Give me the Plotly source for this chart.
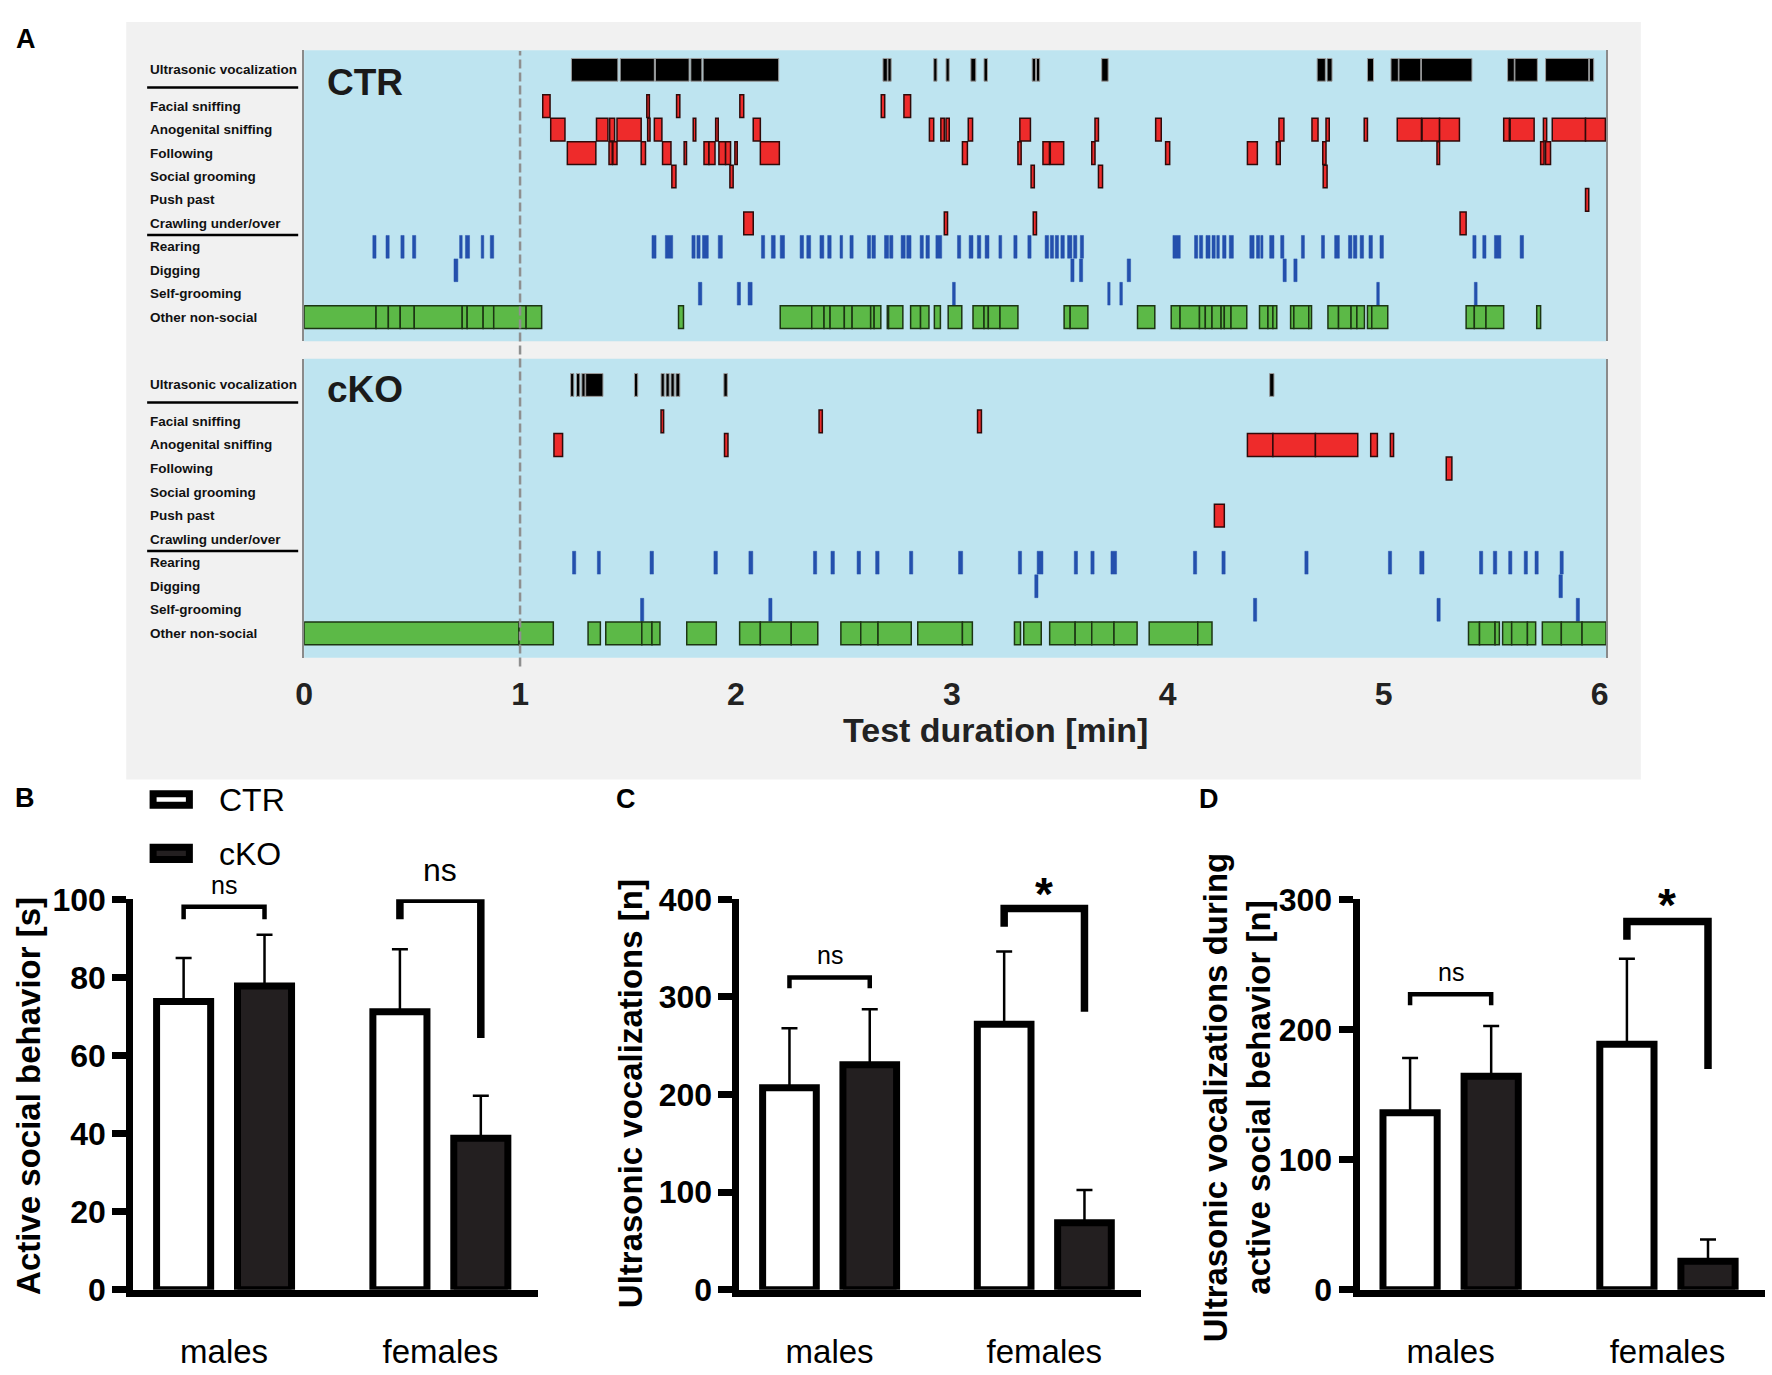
import plotly.graph_objects as go

W, H = 1772, 1375


def PX(v):
    return v / W


def PY(v):
    return 1 - v / H


# ------------------------------------------------------------------ data
behaviors = ["Ultrasonic vocalization", "Facial sniffing", "Anogenital sniffing", "Following",
             "Social grooming", "Push past", "Crawling under/over", "Rearing", "Digging",
             "Self-grooming", "Other non-social"]
behavior_kind = ["usv", "social", "social", "social", "social", "social", "social",
                 "nonsocial", "nonsocial", "nonsocial", "other"]
time_ticks = [0, 1, 2, 3, 4, 5, 6]
habituation_end = 1.0

# CTR events (start, end) in minutes
ctr_usv = [(1.238, 1.453), (1.464, 1.622), (1.627, 1.783), (1.791, 1.842), (1.848, 2.198),
           (2.681, 2.701), (2.704, 2.719), (2.916, 2.931), (2.973, 2.988), (3.088, 3.111),
           (3.149, 3.165), (3.372, 3.388), (3.392, 3.407), (3.694, 3.724), (4.692, 4.730),
           (4.738, 4.761), (4.925, 4.953), (5.034, 5.068), (5.071, 5.172), (5.175, 5.409),
           (5.574, 5.605), (5.608, 5.712), (5.750, 5.950), (5.953, 5.973)]
ctr_facial = [(1.105, 1.139), (1.587, 1.599), (1.725, 1.740), (2.018, 2.036), (2.673, 2.689),
              (2.778, 2.809)]
ctr_anogenital = [(1.142, 1.208), (1.354, 1.407), (1.415, 1.438), (1.449, 1.561), (1.591, 1.602),
                  (1.622, 1.657), (1.802, 1.814), (1.906, 1.918), (2.080, 2.113), (2.896, 2.916),
                  (2.949, 2.965), (2.973, 2.988), (3.076, 3.096), (3.315, 3.364), (3.663, 3.679),
                  (3.944, 3.970), (4.515, 4.538), (4.668, 4.696), (4.733, 4.748), (4.910, 4.925),
                  (5.063, 5.175), (5.178, 5.259), (5.259, 5.351), (5.556, 5.582), (5.586, 5.697),
                  (5.740, 5.755), (5.781, 5.935), (5.935, 6.027)]
ctr_following = [(1.219, 1.351), (1.412, 1.427), (1.430, 1.449), (1.561, 1.581), (1.660, 1.699),
                 (1.760, 1.771), (1.852, 1.875), (1.875, 1.903), (1.921, 1.952), (1.952, 1.975),
                 (1.995, 2.006), (2.113, 2.201), (3.049, 3.072), (3.306, 3.321), (3.422, 3.452),
                 (3.456, 3.518), (3.648, 3.663), (3.990, 4.009), (4.369, 4.415), (4.503, 4.521),
                 (4.718, 4.733), (5.247, 5.259), (5.727, 5.743), (5.750, 5.773)]
ctr_social_grooming = [(1.703, 1.722), (1.972, 1.987), (3.367, 3.382), (3.679, 3.698), (4.720, 4.738)]
ctr_push_past = [(5.935, 5.950)]
ctr_crawling = [(2.036, 2.080), (2.965, 2.980), (3.377, 3.392), (5.354, 5.382)]
ctr_rearing = [(0.318, 0.333), (0.379, 0.394), (0.448, 0.463), (0.502, 0.517), (0.720, 0.732),
               (0.747, 0.766), (0.820, 0.832), (0.862, 0.878), (1.611, 1.630), (1.673, 1.707),
               (1.796, 1.811), (1.819, 1.834), (1.845, 1.872), (1.918, 1.937), (2.118, 2.133),
               (2.164, 2.182), (2.205, 2.225), (2.297, 2.313), (2.328, 2.346), (2.389, 2.407),
               (2.425, 2.441), (2.482, 2.494), (2.528, 2.543), (2.609, 2.624), (2.630, 2.646),
               (2.688, 2.707), (2.712, 2.727), (2.765, 2.784), (2.791, 2.811), (2.853, 2.868),
               (2.880, 2.896), (2.926, 2.953), (3.026, 3.041), (3.080, 3.098), (3.118, 3.134),
               (3.154, 3.172), (3.218, 3.231), (3.287, 3.302), (3.352, 3.367), (3.432, 3.448),
               (3.456, 3.471), (3.479, 3.494), (3.505, 3.521), (3.536, 3.556), (3.564, 3.579),
               (3.595, 3.610), (4.024, 4.058), (4.124, 4.139), (4.147, 4.162), (4.177, 4.196),
               (4.205, 4.220), (4.227, 4.239), (4.254, 4.270), (4.285, 4.304), (4.380, 4.400),
               (4.411, 4.426), (4.431, 4.441), (4.472, 4.492), (4.523, 4.538), (4.619, 4.633),
               (4.712, 4.726), (4.773, 4.795), (4.837, 4.853), (4.860, 4.876), (4.891, 4.907),
               (4.932, 4.948), (4.983, 4.999), (5.413, 5.428), (5.459, 5.474), (5.513, 5.543),
               (5.632, 5.648)]
ctr_digging = [(0.694, 0.712), (3.551, 3.566), (3.591, 3.606), (3.812, 3.828), (4.534, 4.549),
               (4.584, 4.599)]
ctr_self_grooming = [(1.826, 1.842), (2.006, 2.021), (2.056, 2.075), (3.003, 3.016), (3.722, 3.733),
                     (3.778, 3.790), (4.968, 4.980), (5.420, 5.433)]
ctr_other = [(0.0, 0.333), (0.333, 0.390), (0.390, 0.445), (0.445, 0.510), (0.510, 0.732),
             (0.732, 0.755), (0.755, 0.829), (0.829, 0.878), (0.878, 1.028), (1.028, 1.100),
             (1.734, 1.757), (2.205, 2.351), (2.351, 2.408), (2.408, 2.436), (2.436, 2.502),
             (2.502, 2.538), (2.538, 2.624), (2.624, 2.640), (2.640, 2.671), (2.701, 2.707),
             (2.707, 2.773), (2.809, 2.855), (2.855, 2.894), (2.919, 2.947), (2.983, 3.046),
             (3.098, 3.149), (3.149, 3.169), (3.169, 3.223), (3.223, 3.306), (3.520, 3.548),
             (3.548, 3.630), (3.860, 3.940), (4.016, 4.057), (4.057, 4.147), (4.147, 4.174),
             (4.174, 4.205), (4.205, 4.247), (4.247, 4.262), (4.262, 4.293), (4.293, 4.366),
             (4.425, 4.464), (4.464, 4.487), (4.487, 4.505), (4.569, 4.584), (4.584, 4.653),
             (4.653, 4.666), (4.742, 4.791), (4.791, 4.849), (4.849, 4.876), (4.876, 4.911),
             (4.925, 4.945), (4.945, 5.019), (5.382, 5.420), (5.420, 5.474), (5.474, 5.556),
             (5.709, 5.727)]

# cKO events (start, end) in minutes
cko_usv = [(1.234, 1.249), (1.261, 1.277), (1.286, 1.301), (1.304, 1.384), (1.530, 1.545),
           (1.653, 1.668), (1.676, 1.691), (1.699, 1.714), (1.722, 1.740), (1.944, 1.960),
           (4.472, 4.492)]
cko_facial = [(1.653, 1.665), (2.385, 2.400), (3.119, 3.137)]
cko_anogenital = [(1.157, 1.197), (1.947, 1.963), (4.369, 4.487), (4.487, 4.684), (4.684, 4.880),
                  (4.940, 4.971), (5.031, 5.046)]
cko_following = [(5.290, 5.316)]
cko_social_grooming = []
cko_push_past = [(4.216, 4.262)]
cko_crawling = []
cko_rearing = [(1.243, 1.258), (1.358, 1.372), (1.602, 1.618), (1.898, 1.914), (2.060, 2.078),
               (2.359, 2.374), (2.440, 2.456), (2.561, 2.577), (2.647, 2.663), (2.804, 2.819),
               (3.031, 3.050), (3.308, 3.323), (3.395, 3.422), (3.567, 3.582), (3.644, 3.659),
               (3.737, 3.763), (4.119, 4.134), (4.251, 4.266), (4.635, 4.650), (5.022, 5.037),
               (5.167, 5.187), (5.444, 5.459), (5.508, 5.524), (5.579, 5.594), (5.651, 5.666),
               (5.701, 5.716), (5.817, 5.832)]
cko_digging = [(3.384, 3.399), (5.812, 5.828)]
cko_self_grooming = [(1.558, 1.573), (2.152, 2.167), (4.397, 4.412), (5.247, 5.262), (5.892, 5.907)]
cko_other = [(0.0, 0.995), (0.995, 1.154), (1.315, 1.372), (1.397, 1.564), (1.564, 1.611),
             (1.611, 1.648), (1.772, 1.909), (2.017, 2.113), (2.113, 2.256), (2.256, 2.379),
             (2.486, 2.578), (2.578, 2.658), (2.658, 2.812), (2.842, 3.049), (3.049, 3.095),
             (3.290, 3.318), (3.333, 3.414), (3.453, 3.571), (3.571, 3.648), (3.648, 3.751),
             (3.751, 3.858), (3.914, 4.139), (4.139, 4.205), (5.393, 5.444), (5.444, 5.516),
             (5.516, 5.536), (5.551, 5.593), (5.593, 5.666), (5.666, 5.704), (5.735, 5.823),
             (5.823, 5.919), (5.919, 6.030)]

# Bar charts (mean, SEM)
groups = ["males", "females"]
social_ctr = [73.8, 71.2]
social_ctr_sem = [11.2, 16.0]
social_cko = [77.8, 38.8]
social_cko_sem = [13.1, 10.9]
usv_ctr = [207.0, 272.0]
usv_ctr_sem = [61.0, 74.5]
usv_cko = [230.5, 68.8]
usv_cko_sem = [57.0, 33.5]
usvsoc_ctr = [136.0, 188.7]
usvsoc_ctr_sem = [42.0, 65.6]
usvsoc_cko = [164.0, 21.9]
usvsoc_cko_sem = [38.7, 16.8]

# significance brackets per group: label, bracket top, left end, right end, label y
b_sig = ["ns", "ns"]
b_top = [98.1, 100.0]
b_left = [94.9, 94.9]
b_right = [94.9, 64.5]
b_label_y = [103.7, 107.5]
c_sig = ["ns", "*"]
c_top = [320.0, 390.7]
c_left = [309.0, 372.0]
c_right = [309.0, 284.7]
c_label_y = [343.0, 416.0]
d_sig = ["ns", "*"]
d_top = [227.0, 283.0]
d_left = [218.7, 269.0]
d_right = [218.7, 169.6]
d_label_y = [244.5, 303.0]

# ------------------------------------------------------------------ layout constants
ctr_rows = [ctr_usv, ctr_facial, ctr_anogenital, ctr_following, ctr_social_grooming, ctr_push_past,
            ctr_crawling, ctr_rearing, ctr_digging, ctr_self_grooming, ctr_other]
cko_rows = [cko_usv, cko_facial, cko_anogenital, cko_following, cko_social_grooming, cko_push_past,
            cko_crawling, cko_rearing, cko_digging, cko_self_grooming, cko_other]

row_y = [10.55, 9, 8, 7, 6, 5, 4, 3, 2, 1, 0]
sep_y = [9.8, 3.5]
x_range = [0, 6.03]
eth_dom_x = [PX(297), PX(1607)]
ctr_dom_y = [PY(332), PY(33)]
cko_dom_y = [PY(657), PY(350)]
ctr_yrange = [-1.03, 11.39]
cko_yrange = [-1.04, 11.66]

kind_style = {
    "usv": dict(fill="#000000", line="#9a9a9a", lw=1),
    "social": dict(fill="#ee2b2b", line="#2e0a0a", lw=1.5),
    "nonsocial": dict(fill="#2450ad", line="#2450ad", lw=0.5),
    "other": dict(fill="#5cb947", line="#1c3513", lw=1.5),
}

BASE = "Liberation Sans, Arial, sans-serif"


def to_paper(v, rng, dom):
    return dom[0] + (v - rng[0]) / (rng[1] - rng[0]) * (dom[1] - dom[0])


fig = go.Figure()
shapes = []
annotations = []

# Panel A frame
shapes.append(dict(type="rect", xref="paper", yref="paper", x0=PX(118), x1=PX(1642),
                   y0=PY(782), y1=PY(4), fillcolor="#f1f1f1", line=dict(width=0), layer="below"))

for rows, xa, ya, rng, dom, tag, tag_y in [
        (ctr_rows, "x", "y", ctr_yrange, ctr_dom_y, "CTR", 66),
        (cko_rows, "x2", "y2", cko_yrange, cko_dom_y, "cKO", 382)]:
    shapes.append(dict(type="rect", xref=xa + " domain", yref=ya + " domain", x0=0, x1=1, y0=0, y1=1,
                       fillcolor="#bee4f0", line=dict(width=0), layer="below"))
    for name, kind, ev, yv in zip(behaviors, behavior_kind, rows, row_y):
        if ev:
            st = kind_style[kind]
            fig.add_trace(go.Bar(
                orientation="h", y=[yv] * len(ev), x=[e - s for s, e in ev], base=[s for s, e in ev],
                width=0.97, marker=dict(color=st["fill"], line=dict(color=st["line"], width=st["lw"])),
                xaxis=xa, yaxis=ya, showlegend=False, hoverinfo="skip", name=name))
        annotations.append(dict(text=name, xref="paper", yref=ya, x=PX(140), y=yv, xanchor="left",
                                yanchor="middle", showarrow=False,
                                font=dict(family=BASE, size=13.5, color="#111", weight="bold")))
    for sy in sep_y:
        yp = to_paper(sy, rng, dom)
        shapes.append(dict(type="line", xref="paper", yref="paper", x0=PX(139), x1=PX(291),
                           y0=yp, y1=yp, line=dict(color="black", width=2.5)))
    annotations.append(dict(text=tag, xref="paper", yref="paper", x=PX(318), y=PY(tag_y),
                            xanchor="left", yanchor="middle", showarrow=False,
                            font=dict(family=BASE, size=37, color="#1a1a1a", weight="bold")))

# dashed line at end of habituation
xd = to_paper(habituation_end, x_range, eth_dom_x)
shapes.append(dict(type="line", xref="paper", yref="paper", x0=xd, x1=xd, y0=PY(666), y1=PY(34),
                   line=dict(color="#8f8f8f", width=2.5, dash="9px,4px")))

annotations.append(dict(text="Test duration [min]", xref="paper", yref="paper", x=PX(993), y=PY(731),
                        xanchor="center", yanchor="middle", showarrow=False,
                        font=dict(family=BASE, size=34, color="#222", weight="bold")))

# ------------------------------------------------------------------ bar panels
bar_dom_y = [PY(1306), PY(905)]
bar_x_range = [-0.42, 1.45]
half_sep = 0.187
bar_w = 0.25
gx = list(range(len(groups)))

panels = [
    ("x3", "y3", [PX(125), PX(532)], [0, 100], social_ctr, social_ctr_sem, social_cko, social_cko_sem,
     b_sig, b_top, b_left, b_right, b_label_y),
    ("x4", "y4", [PX(735), PX(1139)], [0, 400], usv_ctr, usv_ctr_sem, usv_cko, usv_cko_sem,
     c_sig, c_top, c_left, c_right, c_label_y),
    ("x5", "y5", [PX(1359), PX(1767)], [0, 300], usvsoc_ctr, usvsoc_ctr_sem, usvsoc_cko, usvsoc_cko_sem,
     d_sig, d_top, d_left, d_right, d_label_y),
]

for xa, ya, xdom, yrng, ctr, ctr_sem, cko, cko_sem, sig, top, left, right, ly in panels:
    for vals, sem, fill, off in [(ctr, ctr_sem, "white", -half_sep - bar_w / 2),
                                 (cko, cko_sem, "#231f20", half_sep - bar_w / 2)]:
        fig.add_trace(go.Bar(
            x=gx, y=vals, offset=off, width=bar_w,
            marker=dict(color=fill, line=dict(color="black", width=7)),
            error_y=dict(type="data", array=sem, arrayminus=[0] * len(sem), symmetric=False,
                         color="black", thickness=2.5, width=8),
            cliponaxis=False, xaxis=xa, yaxis=ya, showlegend=False, hoverinfo="skip"))
    for i, g in enumerate(gx):
        xl, xr_ = g - half_sep, g + half_sep
        star = sig[i] != "ns"
        lw = 4.5 if i == 0 else 7.5
        fig.add_trace(go.Scatter(
            x=[xl, xl, xr_, xr_], y=[left[i], top[i], top[i], right[i]], mode="lines",
            line=dict(color="black", width=lw), cliponaxis=False, xaxis=xa, yaxis=ya,
            showlegend=False, hoverinfo="skip"))
        if star:
            fnt = dict(family=BASE, size=46, color="black", weight="bold")
            ysh = -10
        else:
            fnt = dict(family=BASE, size=25 if i == 0 else 32, color="black")
            ysh = 0
        annotations.append(dict(text=sig[i], xref="paper", yref="paper",
                                x=to_paper(g, bar_x_range, xdom), y=to_paper(ly[i], yrng, bar_dom_y),
                                xanchor="center", yanchor="middle", yshift=ysh, showarrow=False,
                                font=fnt))

# y-axis titles
annotations.append(dict(text="Active social behavior [s]", xref="paper", yref="paper", x=PX(19),
                        y=PY(1107), textangle=-90, showarrow=False, xanchor="center", yanchor="middle",
                        font=dict(family=BASE, size=33, color="black", weight="bold")))
annotations.append(dict(text="Ultrasonic vocalizations [n]", xref="paper", yref="paper", x=PX(625),
                        y=PY(1105), textangle=-90, showarrow=False, xanchor="center", yanchor="middle",
                        font=dict(family=BASE, size=33, color="black", weight="bold")))
annotations.append(dict(text="Ultrasonic vocalizations during<br>active social behavior [n]",
                        xref="paper", yref="paper", x=PX(1236), y=PY(1108), textangle=-90,
                        showarrow=False, xanchor="center", yanchor="middle",
                        font=dict(family=BASE, size=33, color="black", weight="bold")))

# legend (panel B)
shapes.append(dict(type="rect", xref="paper", yref="paper", x0=PX(145), x1=PX(181.5),
                   y0=PY(808.5), y1=PY(796.5), fillcolor="white", line=dict(color="black", width=7)))
shapes.append(dict(type="rect", xref="paper", yref="paper", x0=PX(145), x1=PX(181.5),
                   y0=PY(864), y1=PY(851.5), fillcolor="#231f20", line=dict(color="black", width=7)))
annotations.append(dict(text="CTR", xref="paper", yref="paper", x=PX(209), y=PY(803), xanchor="left",
                        yanchor="middle", showarrow=False, font=dict(family=BASE, size=32, color="black")))
annotations.append(dict(text="cKO", xref="paper", yref="paper", x=PX(209), y=PY(858), xanchor="left",
                        yanchor="middle", showarrow=False, font=dict(family=BASE, size=32, color="black")))

# panel letters
for letter, lx, lyy in [("A", 17, 22), ("B", 16, 801), ("C", 621, 802), ("D", 1207, 802)]:
    annotations.append(dict(text=letter, xref="paper", yref="paper", x=PX(lx), y=PY(lyy),
                            xanchor="center", yanchor="middle", showarrow=False,
                            font=dict(family=BASE, size=27, color="black", weight="bold")))

# ------------------------------------------------------------------ axes
eth_x = dict(range=x_range, domain=eth_dom_x, showgrid=False, zeroline=False, showline=False,
             tickvals=time_ticks, ticks="")
eth_y = dict(showgrid=False, zeroline=False, showticklabels=False, showline=True, mirror=True,
             linecolor="#8a8a8a", linewidth=1.5, ticks="")

bar_y_common = dict(domain=bar_dom_y, showgrid=False, zeroline=False, showline=True, linecolor="black",
                    linewidth=7, ticks="outside", ticklen=14, tickwidth=7, tickcolor="black",
                    tickfont=dict(family=BASE, size=32, color="black", weight="bold"))
bar_x_common = dict(range=bar_x_range, showgrid=False, zeroline=False, showline=True, linecolor="black",
                    linewidth=7, ticks="", tickvals=gx, ticktext=groups, ticklabelstandoff=27,
                    tickfont=dict(family=BASE, size=33, color="black"))

fig.update_layout(
    width=W, height=H, autosize=False,
    margin=dict(l=0, r=0, t=0, b=0),
    paper_bgcolor="white", plot_bgcolor="rgba(0,0,0,0)",
    barmode="overlay", showlegend=False,
    font=dict(family=BASE, color="black"),
    xaxis=dict(eth_x, anchor="y", showticklabels=False),
    yaxis=dict(eth_y, anchor="x", domain=ctr_dom_y, range=ctr_yrange),
    xaxis2=dict(eth_x, anchor="y2", matches="x", showticklabels=True, ticklabelstandoff=14,
                tickfont=dict(family=BASE, size=32, color="#222", weight="bold")),
    yaxis2=dict(eth_y, anchor="x2", domain=cko_dom_y, range=cko_yrange),
    xaxis3=dict(bar_x_common, anchor="y3", domain=panels[0][2]),
    yaxis3=dict(bar_y_common, anchor="x3", range=panels[0][3], tickvals=[0, 20, 40, 60, 80, 100]),
    xaxis4=dict(bar_x_common, anchor="y4", domain=panels[1][2]),
    yaxis4=dict(bar_y_common, anchor="x4", range=panels[1][3], tickvals=[0, 100, 200, 300, 400]),
    xaxis5=dict(bar_x_common, anchor="y5", domain=panels[2][2]),
    yaxis5=dict(bar_y_common, anchor="x5", range=panels[2][3], tickvals=[0, 100, 200, 300]),
    shapes=shapes,
    annotations=annotations,
)

fig.write_html("out.html", config={"displayModeBar": False},
               post_script="document.body.style.margin='0';")
